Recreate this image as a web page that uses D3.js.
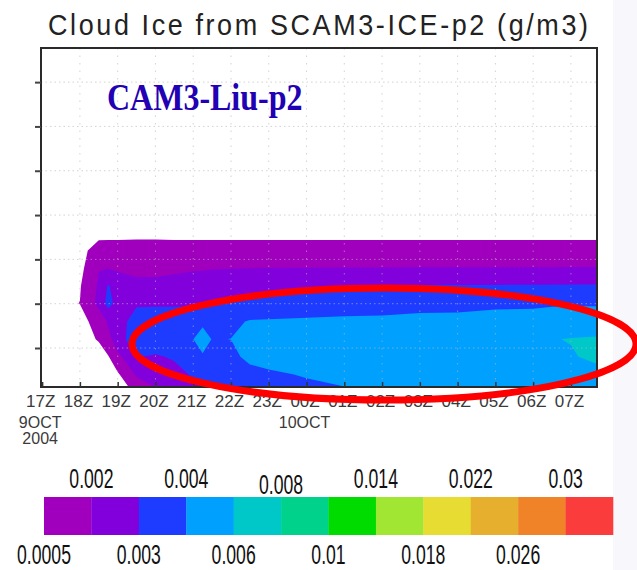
<!DOCTYPE html>
<html>
<head>
<meta charset="utf-8">
<script src="https://cdn.jsdelivr.net/npm/d3@7"></script>
<style>
  html, body { margin: 0; padding: 0; background: #ffffff; }
  svg { display: block; }
</style>
</head>
<body>
<svg id="chart" width="637" height="570"></svg>
<script>
// ---------------- DATA ----------------
const titleText = "Cloud Ice from SCAM3-ICE-p2 (g/m3)";
const overlayText = "CAM3-Liu-p2";

// hours after 17Z, 9 Oct 2004 (grid columns)
const gridHours = [0, 1, 1.5, 1.75, 2, 2.5, 3, 3.5, 4, 4.25, 4.5, 5, 5.5, 6, 7, 8, 9, 10, 11, 12, 13, 13.5, 14, 15];
// vertical grid rows (unlabelled axis units, bottom to top)
const gridLevels = [0, 0.4, 0.8, 1.2, 1.6, 2.0, 2.4, 2.8, 3.2, 3.6];

// cloud ice (g/m3), one array per vertical row
const iceRow00 = [0, 0, 0, 0, 0, 0.00064, 0.0018, 0.0023, 0.0027, 0.0029, 0.003, 0.0031, 0.0032, 0.0033, 0.0036, 0.0038, 0.004, 0.0041, 0.0042, 0.0042, 0.0043, 0.0043, 0.0043, 0.0045];
const iceRow04 = [0, 0, 0, 0, 0.0003, 0.0022, 0.0025, 0.0027, 0.0031, 0.0033, 0.0034, 0.0035, 0.0036, 0.0038, 0.0041, 0.0044, 0.0046, 0.0047, 0.0048, 0.0049, 0.005, 0.005, 0.005, 0.0056];
const iceRow08 = [0, 0, 0, 0.0004, 0.0017, 0.00305, 0.0029, 0.0031, 0.0034, 0.00385, 0.0036, 0.0037, 0.0043, 0.0045, 0.0047, 0.0049, 0.005, 0.0051, 0.0052, 0.0053, 0.0055, 0.0056, 0.0058, 0.0068];
const iceRow12 = [0, 0, 0.0006, 0.0016, 0.0027, 0.0034, 0.0036, 0.0037, 0.00399, 0.0046, 0.00395, 0.00401, 0.0046, 0.0048, 0.005, 0.0051, 0.0052, 0.0053, 0.0054, 0.0055, 0.0057, 0.0059, 0.0061, 0.0063];
const iceRow16 = [0, 0, 0.0011, 0.0022, 0.0026, 0.0034, 0.0035, 0.0035, 0.0036, 0.0037, 0.0037, 0.0038, 0.00407, 0.0041, 0.00415, 0.0042, 0.0042, 0.00427, 0.0043, 0.0044, 0.0045, 0.0045, 0.0046, 0.0046];
const iceRow20 = [0, 0.00052, 0.0024, 0.0033, 0.0027, 0.0029, 0.0029, 0.0029, 0.0029, 0.0029, 0.00305, 0.0031, 0.0032, 0.0033, 0.0034, 0.0035, 0.0036, 0.0037, 0.0037, 0.0038, 0.0038, 0.0039, 0.0039, 0.0039];
const iceRow24 = [0, 0.0004, 0.0022, 0.0031, 0.0024, 0.0023, 0.0023, 0.0024, 0.0025, 0.0026, 0.0027, 0.0027, 0.0027, 0.00273, 0.0028, 0.0029, 0.00295, 0.00305, 0.00305, 0.00306, 0.00307, 0.00307, 0.00308, 0.00308];
const iceRow28 = [0, 0.0001, 0.00195, 0.00198, 0.0019, 0.0017, 0.0017, 0.0018, 0.0019, 0.0019, 0.00195, 0.00198, 0.002, 0.00201, 0.00202, 0.00203, 0.00203, 0.00204, 0.00204, 0.00205, 0.00205, 0.00205, 0.00206, 0.00206];
const iceRow32 = [0, 0, 0.0012, 0.00125, 0.00125, 0.0013, 0.0013, 0.00125, 0.00125, 0.00125, 0.00125, 0.00125, 0.00125, 0.00125, 0.00125, 0.00125, 0.00125, 0.00125, 0.00125, 0.00125, 0.00125, 0.00125, 0.00125, 0.00125];
const iceRow36 = [0, 0, 0, 0, 0, 0, 0, 0, 0, 0, 0, 0, 0, 0, 0, 0, 0, 0, 0, 0, 0, 0, 0, 0];

// contour levels and fill colours (colour i fills values >= level i)
const levels = [0.0005, 0.002, 0.003, 0.004, 0.006, 0.008, 0.01, 0.014, 0.018, 0.022, 0.026, 0.03];
const levelLabels = ["0.0005", "0.002", "0.003", "0.004", "0.006", "0.008", "0.01", "0.014", "0.018", "0.022", "0.026", "0.03"];
const levelColors = ["#A000BE", "#8200DC", "#1E3CFF", "#00A0FF", "#00C8C8", "#00D28C", "#00DC00", "#A0E632", "#E6DC32", "#E6AF2D", "#F08228", "#FA3C3C"];

// time axis
const xTickHours = [0, 1, 2, 3, 4, 5, 6, 7, 8, 9, 10, 11, 12, 13, 14];
const xTickLabels = ["17Z", "18Z", "19Z", "20Z", "21Z", "22Z", "23Z", "00Z", "01Z", "02Z", "03Z", "04Z", "05Z", "06Z", "07Z"];
const dateLabels = [
  { hour: 0, lines: ["9OCT", "2004"] },
  { hour: 7, lines: ["10OCT"] }
];
const yTicks = [1, 2, 3, 4, 5, 6, 7];

// ---------------- LAYOUT ----------------
const svg = d3.select("#chart");
const plot = { left: 41, right: 597, top: 48, bottom: 387 };

const x = d3.scaleLinear().domain([-0.03, 14.69]).range([plot.left, plot.right]);
const y = d3.scaleLinear().domain([0.12, 7.77]).range([plot.bottom, plot.top]);

// right-hand light strip of the original slide
svg.append("rect").attr("x", 613).attr("y", 0).attr("width", 24).attr("height", 570).attr("fill", "#F8F8FC");

// title
svg.append("text")
  .attr("transform", "translate(318,35) scale(1,1.12)")
  .attr("text-anchor", "middle")
  .attr("textLength", 540)
  .attr("lengthAdjust", "spacing")
  .style("font-family", "'Liberation Sans', Arial, sans-serif")
  .style("font-size", "27px")
  .attr("fill", "#222")
  .text(titleText);

// clip
svg.append("defs").append("clipPath").attr("id", "plotClip")
  .append("rect")
  .attr("x", plot.left).attr("y", plot.top)
  .attr("width", plot.right - plot.left).attr("height", plot.bottom - plot.top);

// contours
const rows = [iceRow00, iceRow04, iceRow08, iceRow12, iceRow16, iceRow20, iceRow24, iceRow28, iceRow32, iceRow36];
const nx = gridHours.length, ny = gridLevels.length;
const values = [].concat(...rows);
const colToHour = d3.scaleLinear().domain(d3.range(nx)).range(gridHours);
const rowToLevel = d3.scaleLinear().domain(d3.range(ny)).range(gridLevels);

const contours = d3.contours().size([nx, ny]).thresholds(levels)(values);
const proj = d3.geoTransform({
  point: function(px, py) {
    this.stream.point(x(colToHour(px - 0.5)), y(rowToLevel(py - 0.5)));
  }
});
const path = d3.geoPath(proj);

svg.append("g").attr("clip-path", "url(#plotClip)")
  .selectAll("path")
  .data(contours)
  .join("path")
  .attr("d", path)
  .attr("fill", (d, i) => levelColors[i])
  .attr("stroke", "none");

// dotted grid on top
const grid = svg.append("g").attr("clip-path", "url(#plotClip)");
grid.selectAll(".hg").data(yTicks).join("line")
  .attr("x1", plot.left).attr("x2", plot.right)
  .attr("y1", d => y(d)).attr("y2", d => y(d))
  .attr("stroke", "#b8b8b8").attr("stroke-width", 1)
  .attr("stroke-dasharray", "1.5,3").attr("opacity", 0.6);
grid.selectAll(".vg").data(xTickHours.slice(1)).join("line")
  .attr("x1", d => x(d)).attr("x2", d => x(d))
  .attr("y1", plot.top).attr("y2", plot.bottom)
  .attr("stroke", "#b8b8b8").attr("stroke-width", 1)
  .attr("stroke-dasharray", "1.5,6").attr("opacity", 0.6);

// frame
svg.append("rect")
  .attr("x", plot.left).attr("y", plot.top)
  .attr("width", plot.right - plot.left).attr("height", plot.bottom - plot.top)
  .attr("fill", "none").attr("stroke", "#2a2a2a").attr("stroke-width", 2);

// left ticks (outward)
svg.append("g").attr("transform", `translate(${plot.left},0)`)
  .call(d3.axisLeft(y).tickValues(yTicks).tickSize(6).tickFormat(""))
  .call(g => g.select(".domain").remove())
  .call(g => g.selectAll("line").attr("stroke", "#444").attr("stroke-width", 2));

// bottom ticks (inward) + labels
const xAxis = svg.append("g").attr("transform", `translate(0,${plot.bottom})`)
  .call(d3.axisBottom(x).tickValues(xTickHours).tickSize(-5).tickFormat((d, i) => xTickLabels[i]).tickPadding(9))
  .call(g => g.select(".domain").remove());
xAxis.selectAll("line").attr("stroke", "#333").attr("stroke-width", 1.5);
xAxis.selectAll("text")
  .attr("dx", -2)
  .attr("dy", "0.62em")
  .style("font-family", "'Liberation Sans', Arial, sans-serif")
  .style("font-size", "17px")
  .attr("fill", "#3a3a3a");

dateLabels.forEach(dl => {
  dl.lines.forEach((ln, k) => {
    svg.append("text")
      .attr("x", x(dl.hour) - 2).attr("y", 428 + k * 16)
      .attr("text-anchor", "middle")
      .style("font-family", "'Liberation Sans', Arial, sans-serif")
      .style("font-size", "16px")
      .attr("fill", "#3a3a3a")
      .text(ln);
  });
});

// overlay label
svg.append("text")
  .attr("transform", "translate(107,110) scale(1,1.2)")
  .style("font-family", "'Liberation Serif', 'Times New Roman', serif")
  .style("font-weight", "bold")
  .style("font-size", "32px")
  .attr("fill", "#2200B4")
  .text(overlayText);

// colour bar
const cb = { left: 44, right: 613, top: 497, bottom: 535 };
const cbx = d3.scaleLinear().domain([0, levels.length]).range([cb.left, cb.right]);
svg.append("g").selectAll("rect").data(levelColors).join("rect")
  .attr("x", (d, i) => cbx(i)).attr("y", cb.top)
  .attr("width", (d, i) => cbx(i + 1) - cbx(i) + 0.3)
  .attr("height", cb.bottom - cb.top)
  .attr("fill", d => d);

svg.append("g").selectAll("text").data(levelLabels).join("text")
  .attr("transform", (d, i) => {
    const top = i % 2 === 1;
    let yy = top ? 488 : 564;
    if (d === "0.008") yy += 6;
    return `translate(${cbx(i)},${yy}) scale(0.63,1)`;
  })
  .attr("text-anchor", "middle")
  .style("font-family", "'Liberation Sans', Arial, sans-serif")
  .style("font-size", "28px")
  .attr("fill", "#111")
  .text(d => d);

// red annotation ellipse
svg.append("ellipse")
  .attr("cx", 384).attr("cy", 344)
  .attr("rx", 252).attr("ry", 56)
  .attr("fill", "none")
  .attr("stroke", "#FF0000")
  .attr("stroke-width", 7);
</script>
</body>
</html>
